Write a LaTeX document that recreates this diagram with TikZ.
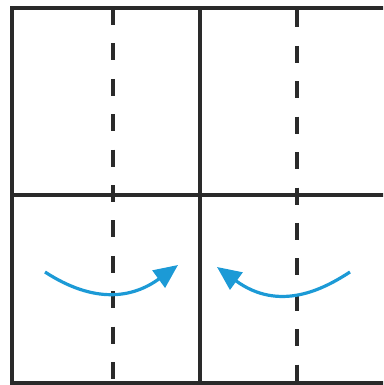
\documentclass[tikz,border=0pt]{standalone}
\usetikzlibrary{arrows.meta}
\definecolor{ink}{HTML}{2A2A2A}
\definecolor{foldblue}{HTML}{1C9AD6}
\tikzset{
  frameline/.style={draw=ink,line width=3.2pt},
  foldline/.style={draw=ink,line width=3.4pt,dash pattern=on 17pt off 18.4pt},
  turnarrow/.style={draw=foldblue,line width=3.2pt,-{Triangle[length=24pt,width=21pt]}}
}
\begin{document}
\begin{tikzpicture}[x=1pt,y=-1pt]
\useasboundingbox (0,0) rectangle (383,385);
\clip (0,0) rectangle (383,385);
% frame corners
\coordinate (tl) at (12,8);
\coordinate (tr) at (390,8);
\coordinate (bl) at (12,383);
\coordinate (br) at (390,383);
\coordinate (ml) at (12,195);
\coordinate (mr) at (390,195);
\coordinate (mt) at (200,8);
\coordinate (mb) at (200,383);
% fold lines
\coordinate (lft) at (113,8);
\coordinate (lfb) at (113,385);
\coordinate (rft) at (297,8);
\coordinate (rfb) at (297,385);
\draw[foldline] (lft) -- (lfb);
\draw[foldline,dash phase=32.9pt] (rft) -- (rfb);
% grid
\draw[frameline] (tr) -- (tl) -- (bl) -- (br);
\draw[frameline] (ml) -- (mr);
\draw[frameline] (mt) -- (mb);
% arrows
\coordinate (las) at (45,272);
\coordinate (lac1) at (94.4,304.1);
\coordinate (lac2) at (132.6,298.2);
\coordinate (lae) at (178,265);
\coordinate (ras) at (350,272);
\coordinate (rac1) at (323.6,289.2);
\coordinate (rac2) at (279.4,312.5);
\coordinate (rae) at (217,267);
\draw[turnarrow] (las) .. controls (lac1) and (lac2) .. (lae);
\draw[turnarrow] (ras) .. controls (rac1) and (rac2) .. (rae);
\end{tikzpicture}
\end{document}
